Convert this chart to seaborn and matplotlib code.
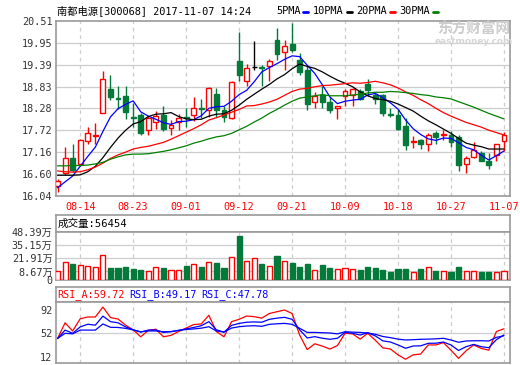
import numpy as np
import pandas as pd
import matplotlib
matplotlib.use("Agg")
import matplotlib.pyplot as plt
from matplotlib.lines import Line2D
import seaborn as sns

# ---------------- data ----------------
title = "南都电源[300068] 2017-11-07 14:24"
date_labels = ["08-14", "08-23", "09-01", "09-12", "09-21", "10-09", "10-18", "10-27", "11-07"]
date_index = [3, 10, 17, 24, 31, 38, 45, 52, 59]
price_tick_labels = ["20.51", "19.95", "19.39", "18.83", "18.28", "17.72", "17.16", "16.60", "16.04"]
vol_tick_labels = ["48.39万", "35.15万", "21.91万", "8.67万", "0"]
vol_tick_values = [48.39, 35.15, 21.91, 8.67, 0]
rsi_ticks = [92, 52, 12]
vol_header = "成交量:56454"
rsi_header = ["RSI_A:59.72", "RSI_B:49.17", "RSI_C:47.78"]
ma_names = ["5PMA", "10PMA", "20PMA", "30PMA"]

opens = [16.29, 16.63, 17.01, 16.87, 17.44, 17.58, 18.17, 18.77, 18.54, 18.59,
         18.05, 18.10, 17.73, 17.93, 18.10, 17.77, 17.92, 18.05, 18.11, 18.29,
         18.23, 18.65, 18.24, 18.03, 19.49, 18.99, 19.33, 19.34, 19.36, 20.02,
         19.72, 19.91, 19.52, 19.25, 18.45, 18.62, 18.43, 18.30, 18.59, 18.63,
         18.71, 18.90, 18.63, 18.63, 18.14, 18.10, 17.83, 17.43, 17.47, 17.36,
         17.66, 17.60, 17.61, 17.55, 16.87, 17.03, 17.14, 16.93, 17.08, 17.44]
closes = [16.42, 17.01, 16.71, 17.48, 17.64, 17.61, 19.02, 18.56, 18.52, 18.19,
          18.04, 17.64, 18.02, 18.09, 17.74, 17.85, 18.02, 18.03, 18.30, 18.27,
          18.79, 18.23, 18.06, 18.96, 19.13, 19.32, 19.33, 19.32, 19.49, 19.66,
          19.87, 19.78, 19.22, 18.39, 18.60, 18.43, 18.23, 18.33, 18.71, 18.77,
          18.53, 18.75, 18.53, 18.15, 18.12, 17.76, 17.34, 17.45, 17.37, 17.60,
          17.55, 17.62, 17.42, 16.82, 17.01, 17.21, 16.94, 16.84, 17.36, 17.59]
highs = [16.48, 17.30, 17.37, 17.50, 17.79, 17.91, 19.23, 19.12, 18.86, 18.86,
         18.41, 18.17, 18.09, 18.22, 18.35, 17.97, 18.13, 18.30, 18.58, 18.52,
         18.82, 18.79, 18.35, 18.99, 20.24, 19.42, 20.00, 19.38, 19.55, 20.34,
         20.02, 20.45, 19.69, 19.38, 18.69, 18.86, 18.56, 18.35, 18.77, 18.80,
         18.77, 19.03, 18.69, 18.65, 18.30, 18.26, 18.04, 17.57, 17.50, 17.66,
         17.70, 17.72, 17.70, 17.61, 17.06, 17.42, 17.19, 17.14, 17.37, 17.68]
lows = [16.15, 16.58, 16.65, 16.80, 17.38, 17.36, 18.17, 18.49, 18.26, 18.00,
        17.79, 17.60, 17.60, 17.74, 17.70, 17.60, 17.72, 17.79, 17.96, 18.04,
        18.06, 18.06, 17.93, 18.00, 18.97, 18.84, 19.27, 18.86, 18.99, 19.52,
        19.25, 19.72, 19.14, 18.23, 18.30, 18.28, 18.16, 18.00, 18.35, 18.33,
        18.50, 18.60, 18.39, 18.09, 18.07, 17.73, 17.21, 17.27, 17.25, 17.19,
        17.38, 17.46, 17.29, 16.68, 16.64, 17.01, 16.93, 16.74, 16.94, 17.19]

ma5 = [16.25, 16.40, 16.55, 16.80, 17.05, 17.29, 17.69, 18.06, 18.27, 18.38,
       18.47, 18.19, 18.08, 18.00, 17.91, 17.87, 17.94, 17.95, 17.99, 18.09,
       18.28, 18.32, 18.33, 18.46, 18.63, 18.74, 18.96, 19.21, 19.32, 19.42,
       19.53, 19.62, 19.60, 19.38, 19.17, 18.88, 18.57, 18.40, 18.46, 18.49,
       18.51, 18.62, 18.66, 18.55, 18.42, 18.26, 17.98, 17.76, 17.61, 17.50,
       17.46, 17.52, 17.51, 17.40, 17.28, 17.22, 17.08, 16.96, 17.07, 17.19]
ma10 = [16.57, 16.57, 16.57, 16.58, 16.66, 16.80, 17.02, 17.28, 17.52, 17.72,
        17.88, 17.94, 18.07, 18.13, 18.14, 18.17, 18.07, 18.01, 17.99, 18.00,
        18.08, 18.13, 18.14, 18.23, 18.36, 18.51, 18.64, 18.77, 18.89, 19.03,
        19.14, 19.29, 19.41, 19.35, 19.30, 19.21, 19.10, 19.00, 18.92, 18.83,
        18.70, 18.60, 18.53, 18.50, 18.46, 18.39, 18.30, 18.21, 18.08, 17.96,
        17.86, 17.75, 17.64, 17.51, 17.39, 17.34, 17.30, 17.24, 17.24, 17.24]
ma20 = [16.68, 16.66, 16.65, 16.66, 16.71, 16.78, 16.88, 17.00, 17.09, 17.16,
        17.24, 17.28, 17.31, 17.36, 17.41, 17.49, 17.58, 17.67, 17.76, 17.86,
        17.98, 18.04, 18.11, 18.18, 18.25, 18.34, 18.35, 18.39, 18.44, 18.51,
        18.61, 18.71, 18.77, 18.79, 18.83, 18.86, 18.87, 18.89, 18.91, 18.93,
        18.92, 18.94, 18.97, 18.93, 18.88, 18.80, 18.70, 18.61, 18.50, 18.40,
        18.28, 18.17, 18.08, 18.00, 17.92, 17.86, 17.80, 17.72, 17.66, 17.60]
ma30 = [16.81, 16.81, 16.82, 16.82, 16.83, 16.86, 16.90, 16.98, 17.04, 17.09,
        17.11, 17.11, 17.12, 17.15, 17.18, 17.22, 17.27, 17.32, 17.39, 17.44,
        17.50, 17.55, 17.58, 17.64, 17.73, 17.82, 17.93, 18.03, 18.15, 18.25,
        18.36, 18.46, 18.54, 18.57, 18.60, 18.63, 18.60, 18.60, 18.60, 18.62,
        18.64, 18.67, 18.69, 18.69, 18.71, 18.70, 18.68, 18.66, 18.63, 18.61,
        18.57, 18.55, 18.52, 18.45, 18.38, 18.31, 18.23, 18.15, 18.08, 18.01]

volume = [9.3, 18.2, 16.5, 15.1, 14.1, 13.1, 25.4, 12.4, 12.4, 13.4,
          11.3, 10.3, 9.3, 13.1, 12.4, 10.3, 10.3, 14.4, 16.5, 13.4,
          18.5, 16.8, 12.4, 23.4, 44.6, 19.6, 22.7, 16.5, 14.4, 24.0,
          18.9, 17.5, 13.4, 16.5, 10.3, 15.4, 12.4, 11.3, 12.4, 11.3,
          10.3, 13.4, 12.4, 10.3, 8.2, 11.3, 11.3, 8.2, 11.3, 13.1,
          9.3, 9.3, 8.2, 13.4, 9.3, 9.3, 8.2, 8.2, 8.2, 9.3]

rsi_a = [43, 70, 56, 77, 80, 80, 97, 79, 76.5, 66,
         58, 46, 57, 59, 46, 48.5, 55, 61, 67, 68,
         83, 55, 46, 72, 76, 81.7, 80.5, 78, 86, 89,
         92, 86, 49, 24, 34, 30, 25, 31, 52, 51,
         42, 52, 40, 27, 25, 15, 7.5, 15, 16.5, 32,
         32, 36, 23, 9, 22, 32, 26, 23, 55, 59.72]
rsi_b = [43, 57.5, 52, 63, 67.5, 66, 81.5, 72, 70, 63,
         58, 54, 57.5, 57.7, 53.5, 55, 57, 59.5, 62, 65,
         72, 58, 54, 65.5, 69, 71, 71.5, 71, 76, 78,
         79.4, 76, 58, 44, 46.2, 43.6, 41.7, 43.5, 53.7, 52,
         49, 53, 47.5, 39, 37, 32, 26.3, 30.2, 30.5, 34.8,
         35, 37, 32, 22.5, 29, 33, 29, 27.3, 41, 49.17]
rsi_c = [43, 52, 51, 57.5, 57.5, 57.5, 68, 62.3, 62, 60.5,
         57.7, 54.7, 56, 56, 54.7, 54.7, 57, 58.5, 59.5, 60.8,
         63.3, 56, 54, 61, 63.3, 64.5, 65, 64, 67.4, 68.3,
         69, 67.4, 60.6, 53.5, 53.5, 53, 52.5, 51, 54.7, 54,
         53.5, 52.5, 50.3, 46.5, 44.5, 42, 40.5, 41, 41.7, 42,
         42.5, 43.4, 40.5, 36.6, 38.8, 39.2, 39.2, 38.8, 45, 47.78]

# ---------------- style ----------------
sns.set_style("white")
plt.rcParams['font.family'] = ['DejaVu Sans Mono', 'Noto Sans CJK SC']
plt.rcParams['font.size'] = 7.3

RED = "#ff0000"
GREEN = "#03793a"
BLUE = "#0000ff"
MAG = "#008000"
BORDER = "#9a9a9a"
GRID = "#cdcdcd"
TXT = "#333333"

W, H = 520, 365
fig = plt.figure(figsize=(W / 100, H / 100), dpi=100)
fig.patch.set_facecolor("white")


def box(l, t, r, b):
    return fig.add_axes([l / W, 1 - b / H, (r - l) / W, (b - t) / H])


def frame(ax):
    for s in ax.spines.values():
        s.set_color(BORDER)
        s.set_linewidth(1.2)
        s.set_visible(True)


df = pd.DataFrame({"i": np.arange(len(closes)), "open": opens, "close": closes,
                   "high": highs, "low": lows, "vol": volume,
                   "ma5": ma5, "ma10": ma10, "ma20": ma20, "ma30": ma30,
                   "rsi_a": rsi_a, "rsi_b": rsi_b, "rsi_c": rsi_c})
up = df["close"] > df["open"]
flat = df["close"] == df["open"]
edge = np.where(up, RED, np.where(flat, "black", GREEN))
face = np.where(up | flat, "white", GREEN)
XL = (-0.2, 59.8)

# ---------------- price panel ----------------
ax = box(56, 21, 510, 196)
frame(ax)
ax.set_xlim(*XL)
ax.set_ylim(16.04, 20.51)
pt = [float(s) for s in price_tick_labels]
ax.set_yticks(pt, price_tick_labels)
for v in pt[1:-1]:
    ax.axhline(v, color=GRID, lw=0.9, zorder=0)
for i in date_index:
    ax.axvline(i, color=GRID, lw=0.9, ls=(0, (3, 3)), zorder=0)
ax.set_xticks(date_index, date_labels)
ax.tick_params(axis="x", length=0, pad=4, colors=RED, labelsize=7.3)
ax.tick_params(axis="y", length=0, pad=2.5, colors=TXT, labelsize=7.3)

ax.vlines(df["i"], df["low"], df["high"], colors=edge, lw=1, zorder=2)
ax.bar(df["i"], (df["close"] - df["open"]).abs(), bottom=np.minimum(df["open"], df["close"]),
       width=0.64, color=face, edgecolor=edge, linewidth=1, zorder=3)
for col, c in zip(["ma5", "ma10", "ma20", "ma30"], [BLUE, "black", RED, MAG]):
    sns.lineplot(data=df, x="i", y=col, ax=ax, color=c, lw=0.9, legend=False, zorder=4)
ax.set_xlabel("")
ax.set_ylabel("")

# ---------------- header texts ----------------
fig.text(57 / W, 1 - 10.5 / H, title, va="center", ha="left", color="black", fontsize=7.4)
leg_x = [276, 313, 356, 399]
for name, x0, c in zip(ma_names, leg_x, [BLUE, "black", RED, MAG]):
    t = fig.text(x0 / W, 1 - 10.5 / H, name, va="center", ha="left", color="black", fontsize=7.4)
    bx = x0 + 6.1 * len(name) + 3
    fig.add_artist(Line2D([bx / W, (bx + 5) / W], [1 - 12 / H, 1 - 12 / H], color=c, lw=2))

fig.text(474 / W, 1 - 29 / H, "东方财富网", va="center", ha="center", color="#cccccc",
         fontsize=10.5, fontweight="bold", family=["Noto Sans CJK SC"])
fig.text(474 / W, 1 - 41.5 / H, "eastmoney.com", va="center", ha="center", color="#d6d6d6",
         fontsize=6.4, fontweight="bold", family=["DejaVu Sans"])

# ---------------- volume panel ----------------
vh = box(56, 215, 510, 232.3)
frame(vh)
vh.set_xticks([])
vh.set_yticks([])
vh.text(0.003, 0.5, vol_header, transform=vh.transAxes, va="center", ha="left",
        color="black", fontsize=7.6)

vax = box(56, 232.3, 510, 280)
frame(vax)
vax.set_xlim(*XL)
vax.set_ylim(0, 48.39)
vax.set_yticks(vol_tick_values, vol_tick_labels)
vax.set_xticks([])
vax.tick_params(axis="y", length=0, pad=2.5, colors=TXT, labelsize=7.3)
for v in vol_tick_values[1:-1]:
    vax.axhline(v, color=GRID, lw=0.9, zorder=0)
for i in date_index:
    vax.axvline(i, color=GRID, lw=0.9, ls=(0, (3, 3)), zorder=0)
vcol = np.where(df["close"] >= df["open"], RED, GREEN)
vface = np.where(df["close"] >= df["open"], "white", GREEN)
vax.bar(df["i"], df["vol"], width=0.68, color=vface, edgecolor=vcol, linewidth=1, zorder=3)

# ---------------- RSI panel ----------------
rh = box(56, 287.3, 510, 302.3)
frame(rh)
rh.set_xticks([])
rh.set_yticks([])
for txt, x0, c in zip(rsi_header, [57.3, 129, 201], [RED, BLUE, BLUE]):
    fig.text(x0 / W, 1 - 294.8 / H, txt, va="center", ha="left", color=c, fontsize=7.3)

rax = box(56, 302.3, 510, 363.3)
frame(rax)
rax.set_xlim(*XL)
rax.set_ylim(0.5, 105.2)
rax.set_yticks(rsi_ticks, [str(v) for v in rsi_ticks])
rax.set_xticks([])
rax.tick_params(axis="y", length=0, pad=2.5, colors=TXT, labelsize=7.3)
rax.axhline(52, color=GRID, lw=0.9, zorder=0)
for i in date_index:
    rax.axvline(i, color=GRID, lw=0.9, ls=(0, (3, 3)), zorder=0)
for col, c in zip(["rsi_a", "rsi_b", "rsi_c"], [RED, BLUE, BLUE]):
    sns.lineplot(data=df, x="i", y=col, ax=rax, color=c, lw=0.9, legend=False, zorder=3)
rax.set_xlabel("")
rax.set_ylabel("")

fig.savefig("out.png", dpi=100, facecolor="white")
